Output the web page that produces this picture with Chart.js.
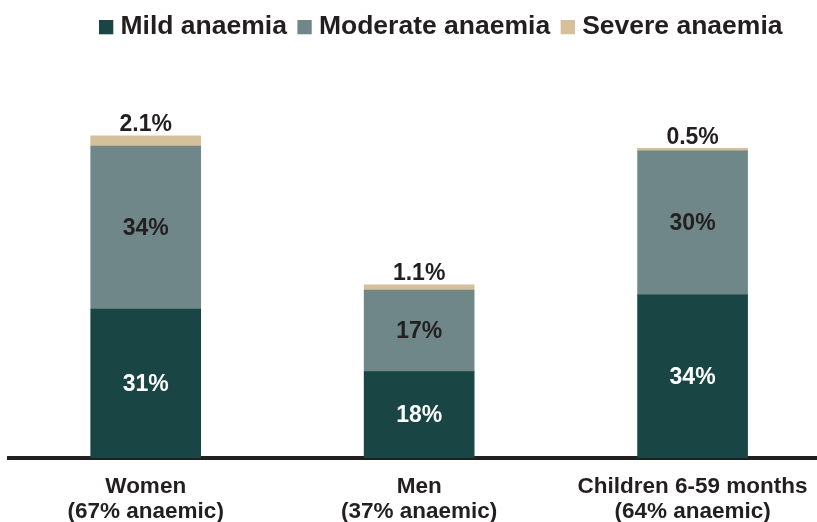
<!DOCTYPE html>
<html>
<head>
<meta charset="utf-8">
<script src="https://cdn.jsdelivr.net/npm/chart.js@4"></script>
<style>
  html, body { margin: 0; padding: 0; background: #fff; }
  #wrap { width: 817px; height: 522px; position: relative; }
</style>
</head>
<body>
<div id="wrap"><canvas id="chart"></canvas></div>
<script>
// Chart data
const categories = [
  ['Women', '(67% anaemic)'],
  ['Men', '(37% anaemic)'],
  ['Children 6-59 months', '(64% anaemic)']
];
const seriesNames = ['Mild anaemia', 'Moderate anaemia', 'Severe anaemia'];
const mildValues = [31, 18, 34];
const moderateValues = [34, 17, 30];
const severeValues = [2.1, 1.1, 0.5];

// Colours
const colors = {
  mild: '#1a4545',
  moderate: '#6f8788',
  severe: '#d4c19c',
  text: '#231f20'
};
const fontFamily = '"Liberation Sans", Arial, Helvetica, sans-serif';

const toPoints = (values) => values.map((v, i) => ({ x: i, y: v }));
const fmt = (v) => (Number.isInteger(v) ? v : v.toFixed(1)) + '%';

// Draws value labels: inside for mild/moderate, above for severe
const valueLabels = {
  id: 'valueLabels',
  afterDatasetsDraw(chart) {
    const ctx = chart.ctx;
    ctx.save();
    ctx.font = 'bold 23px ' + fontFamily;
    ctx.textAlign = 'center';
    chart.data.datasets.forEach((ds, di) => {
      const meta = chart.getDatasetMeta(di);
      meta.data.forEach((bar, i) => {
        const v = ds.data[i].y;
        if (di === 2) {
          ctx.fillStyle = colors.text;
          ctx.textBaseline = 'alphabetic';
          ctx.fillText(fmt(v), bar.x, bar.y - 4.5);
        } else {
          ctx.fillStyle = di === 0 ? '#ffffff' : colors.text;
          ctx.textBaseline = 'middle';
          ctx.fillText(fmt(v), bar.x, (bar.y + bar.base) / 2 + 1);
        }
      });
    });
    ctx.restore();
  }
};

// Simple legend drawn at the top
const topLegend = {
  id: 'topLegend',
  afterDraw(chart) {
    const ctx = chart.ctx;
    ctx.save();
    ctx.font = 'bold 26.5px ' + fontFamily;
    ctx.textBaseline = 'alphabetic';
    let x = 99;
    const base = 34.3;
    chart.data.datasets.forEach((ds) => {
      ctx.fillStyle = ds.backgroundColor;
      ctx.fillRect(x, base - 14.3, 14.3, 14.3);
      x += 21.5;
      ctx.fillStyle = colors.text;
      ctx.fillText(ds.label, x, base);
      x += ctx.measureText(ds.label).width + 10.5;
    });
    ctx.restore();
  }
};

new Chart(document.getElementById('chart'), {
  type: 'bar',
  data: {
    datasets: [
      { label: seriesNames[0], data: toPoints(mildValues), backgroundColor: colors.mild },
      { label: seriesNames[1], data: toPoints(moderateValues), backgroundColor: colors.moderate },
      { label: seriesNames[2], data: toPoints(severeValues), backgroundColor: colors.severe }
    ]
  },
  options: {
    responsive: true,
    maintainAspectRatio: false,
    animation: false,
    layout: { padding: { top: 122, left: 9, right: 0, bottom: 0 } },
    datasets: {
      bar: { barThickness: 110, borderWidth: 0 }
    },
    plugins: {
      legend: { display: false },
      tooltip: { enabled: false }
    },
    scales: {
      x: {
        type: 'linear',
        stacked: true,
        offset: false,
        min: -0.5,
        max: 2.455,
        z: 1,
        grid: { display: false, drawTicks: false, offset: false },
        border: { display: true, color: colors.text, width: 4 },
        afterFit: (scale) => {
          scale.height = 64;
          scale.paddingLeft = 0;
          scale.paddingRight = 0;
        },
        ticks: {
          stepSize: 1,
          autoSkip: false,
          maxRotation: 0,
          padding: 16,
          color: colors.text,
          font: { family: fontFamily, size: 22.5, weight: 'bold', lineHeight: 1.12 },
          callback: (value) => Number.isInteger(value) ? categories[value] : null
        }
      },
      y: {
        stacked: true,
        display: false,
        min: 0,
        max: 70
      }
    }
  },
  plugins: [valueLabels, topLegend]
});
</script>
</body>
</html>
